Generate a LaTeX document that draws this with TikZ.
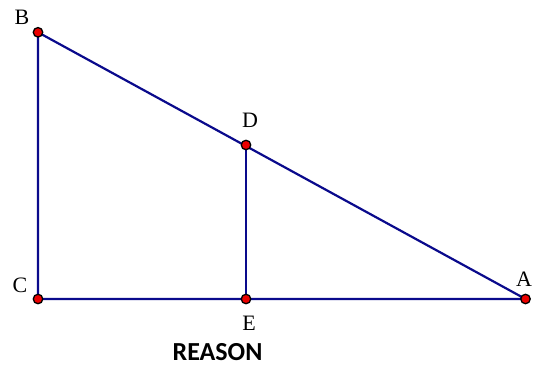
\documentclass[tikz,border=0pt]{standalone}
\usepackage{fontspec}
\setmainfont{Liberation Serif}
\newfontfamily\reasonfont{Carlito}
\definecolor{segblue}{RGB}{10,10,140}
\definecolor{ptred}{RGB}{235,0,0}
\begin{document}
\begin{tikzpicture}[x=1pt, y=-1pt,
	seg/.style={draw=segblue, line width=2.2pt},
	pt/.style={circle, fill=ptred, draw=black, line width=1.3pt, inner sep=0pt, minimum size=9.5pt},
	lbl/.style={font=\fontsize{22}{24}\selectfont, inner sep=0pt}]
	\useasboundingbox (0,0) rectangle (539,366);
	\coordinate (B) at (38,32.3);
	\coordinate (C) at (38,299);
	\coordinate (A) at (525.5,299);
	\coordinate (D) at (246,145);
	\coordinate (E) at (246,299);
	\draw[seg] (B) -- (A) -- (C) -- cycle;
	\draw[seg] (D) -- (E);
	\foreach \p in {A,B,C,D,E}
		\node[pt] at (\p) {};
	\node[lbl] (lB) at (22,17) {B};
	\node[lbl] (lD) at (250,120) {D};
	\node[lbl] (lC) at (20,285) {C};
	\node[lbl] (lA) at (524,279) {A};
	\node[lbl] (lE) at (249,323) {E};
	\node[font=\reasonfont\bfseries\fontsize{26}{28}\selectfont, inner sep=0pt] (reason) at (217.5,352) {REASON};
\end{tikzpicture}
\end{document}
